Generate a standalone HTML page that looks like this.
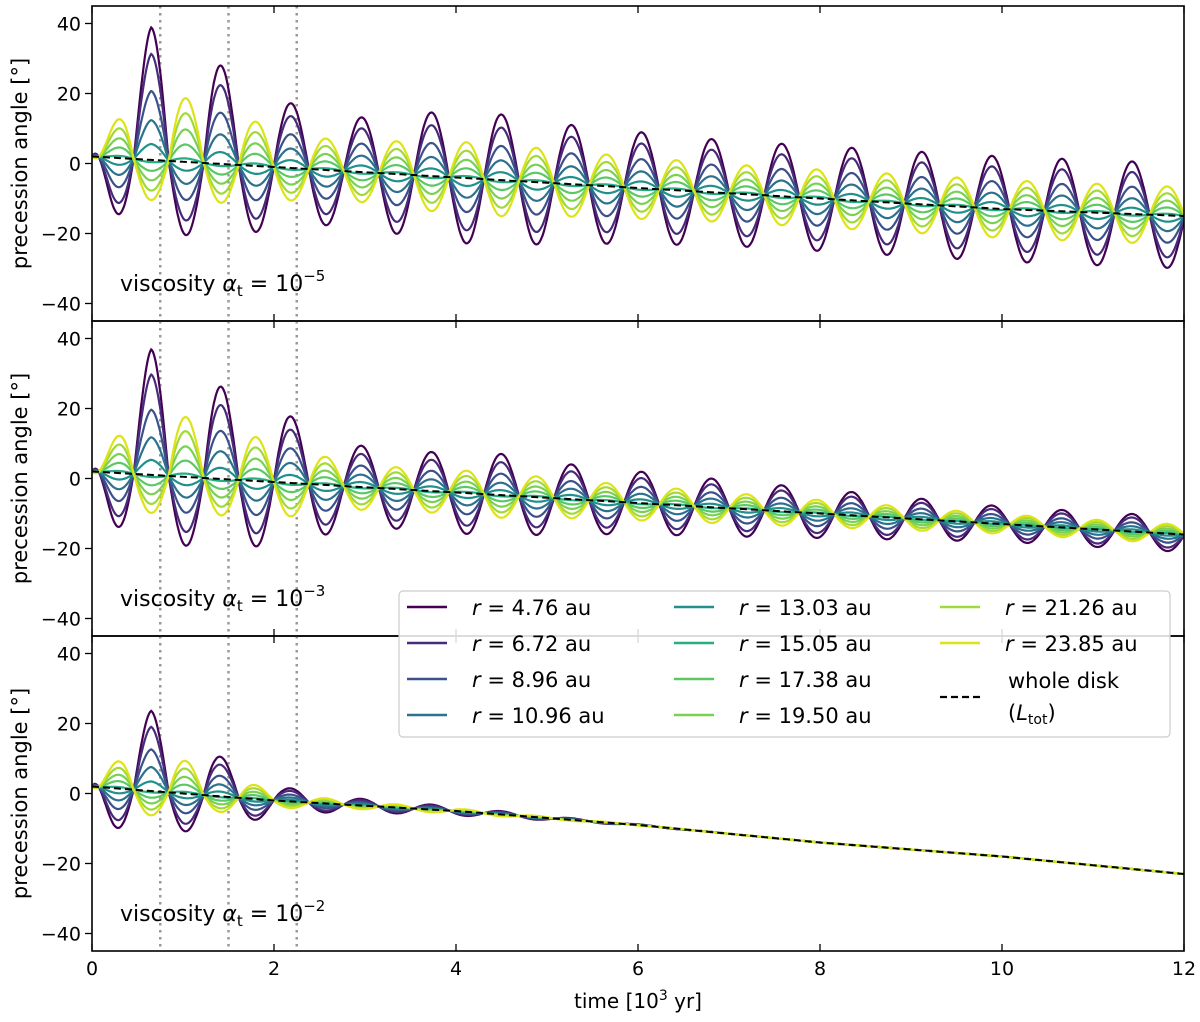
<!DOCTYPE html>
<html><head><meta charset="utf-8"><style>
body{margin:0;background:#fff}
svg{display:block;font-family:"DejaVu Sans","Liberation Sans",sans-serif}
</style></head><body>
<svg id="chart" width="1200" height="1022" viewBox="0 0 1200 1022"></svg>
<script>
// ---- data ----
const radii = ["4.76","6.72","8.96","10.96","13.03","15.05","17.38","19.50","21.26","23.85"];
const colors = ["#440154","#472c7a","#3b518b","#2c718e","#21908d","#27ad81","#5cc863","#7ad151","#a0da39","#dde318"];
const modeCoef = [1.0,0.8,0.52,0.3,0.12,-0.03,-0.15,-0.28,-0.42,-0.55];
const envTimes = [0,0.65,1.35,2.1,2.8,3.6,4.4,5.2,6,7,8,9,10,11,12];
const envTop = [10,38,29,19,15,18,19,17,16,15,15,15,15,15,15];
const envMid = [10,36,27,20,12,11,12,10,9,8,7,6,5,5,5];
const envBot = [10,23,12,4,2,1.5,1,0.5,0.2,0,0,0,0,0,0];
const negFactor = [1,0.55,0.7,0.9,1,1,1,1,1,1,1,1,1,1,1];
const trendTimes = [0,2,4,6,8,10,12];
const trendTop = [2,-1,-4,-7,-10,-13,-15];
const trendMid = [2,-1,-4,-7,-10,-13,-16];
const trendBot = [2,-2,-5,-9,-14,-18,-23];
const oscPeriod = 0.77, firstPeak = 0.65;
const xTicks = [0,2,4,6,8,10,12];
const yTicks = [-40,-20,0,20,40];
const markerTimes = [0.75,1.5,2.25];
const panelLabels = ["\u22125","\u22123","\u22122"];
// ---- layout ----
const NS="http://www.w3.org/2000/svg";
const svg=document.getElementById('chart');
const X0=92,X1=1184;
const panels=[{top:6,env:envTop,tr:trendTop},{top:321,env:envMid,tr:trendMid},{top:636,env:envBot,tr:trendBot}];
const PH=315;
const xs=t=>X0+(t/12)*(X1-X0);
function mk(tag,attrs,parent){const e=document.createElementNS(NS,tag);for(const k in attrs)e.setAttribute(k,attrs[k]);(parent||svg).appendChild(e);return e;}
function interp(ts,vs,t){for(let i=0;i<ts.length-1;i++){if(t<=ts[i+1]){const f=(t-ts[i])/(ts[i+1]-ts[i]);return vs[i]+f*(vs[i+1]-vs[i]);}}return vs[vs.length-1];}
panels.forEach((p,pi)=>{
  const ys=v=>p.top+PH/2-v*(PH/90);
  const g=mk('g',{});
  
  
  const clipId='clip'+pi;
  const cp=mk('clipPath',{id:clipId},g);mk('rect',{x:X0,y:p.top,width:X1-X0,height:PH},cp);
  markerTimes.forEach(t=>{const l=mk('line',{x1:xs(t),x2:xs(t),y1:p.top,y2:p.top+PH,stroke:'#999','stroke-width':2.5,'stroke-dasharray':'2.5,4.5'},g);
    });
  const lg=mk('g',{'clip-path':'url(#'+clipId+')'},g);
  radii.forEach((r,i)=>{
    let d='';
    for(let k=0;k<=1200;k++){const t=k*0.01;
      const ramp=1-Math.exp(-t/0.12);
      let o=modeCoef[i]*interp(envTimes,p.env,t)*ramp*Math.cos(2*Math.PI*(t-firstPeak)/oscPeriod);
      if(o<0)o*=interp(envTimes,negFactor,t);
      const v=interp(trendTimes,p.tr,t)+o;
      d+=(k?'L':'M')+xs(t).toFixed(1)+','+ys(v).toFixed(1);}
    const path=mk('path',{d:d,fill:'none',stroke:colors[i],'stroke-width':2.2},lg);
    
    
  });
  let d='';
  for(let k=0;k<=240;k++){const t=k*0.05;d+=(k?'L':'M')+xs(t).toFixed(1)+','+ys(interp(trendTimes,p.tr,t)).toFixed(1);}
  const tl=mk('path',{d:d,fill:'none',stroke:'#000','stroke-width':2,'stroke-dasharray':'7,4'},lg);
  
  mk('rect',{x:X0,y:p.top,width:X1-X0,height:PH,fill:'none',stroke:'#000','stroke-width':1.6},g);
  xTicks.forEach(t=>{mk('line',{x1:xs(t),x2:xs(t),y1:p.top+PH,y2:p.top+PH-7,stroke:'#000','stroke-width':1.3},g);
    mk('line',{x1:xs(t),x2:xs(t),y1:p.top,y2:p.top+7,stroke:'#000','stroke-width':1.3},g);});
  yTicks.forEach(v=>{mk('line',{x1:X0,x2:X0-7,y1:ys(v),y2:ys(v),stroke:'#000','stroke-width':1.3},g);
    const tx=mk('text',{x:X0-11,y:ys(v)+7,'text-anchor':'end','font-size':19},g);tx.textContent=v<0?'\u2212'+(-v):v;
    });
  const yl=mk('text',{transform:`translate(27,${p.top+PH/2}) rotate(-90)`,'text-anchor':'middle','font-size':21},g);
  yl.textContent='precession angle [°]';
  const lab=mk('text',{x:120,y:p.top+PH-30,'font-size':22},g);
  lab.innerHTML='viscosity <tspan font-style="italic">α</tspan><tspan font-size="15" dy="5">t</tspan><tspan dy="-5"> = 10</tspan><tspan font-size="15" dy="-10">'+panelLabels[pi]+'</tspan>';
  
});
xTicks.forEach(t=>{const tx=mk('text',{x:xs(t),y:975,'text-anchor':'middle','font-size':19});tx.textContent=t;
  });
const xt=mk('text',{x:638,y:1008,'text-anchor':'middle','font-size':20});
xt.innerHTML='time [10<tspan font-size="14" dy="-8">3</tspan><tspan dy="8"> yr]</tspan>';

// legend
const lg=mk('g',{});

mk('rect',{x:399,y:591,width:771,height:146,rx:4,fill:'rgba(255,255,255,0.85)',stroke:'#ccc','stroke-width':1.2},lg);
const colX=[407,674,940];
radii.forEach((r,i)=>{const c=i<4?0:(i<8?1:2);const row=i<4?i:(i<8?i-4:i-8);
  const y=607+row*36;
  mk('line',{x1:colX[c],x2:colX[c]+40,y1:y,y2:y,stroke:colors[i],'stroke-width':2.5},lg);
  const t=mk('text',{x:colX[c]+65,y:y+8,'font-size':21},lg);
  t.innerHTML='<tspan font-style="italic">r</tspan> = '+r+' au';
  });
mk('line',{x1:940,x2:980,y1:697,y2:697,stroke:'#000','stroke-width':2.2,'stroke-dasharray':'7,4'},lg);
const w1=mk('text',{x:1008,y:688,'font-size':21},lg);w1.textContent='whole disk';

const w2=mk('text',{x:1008,y:720,'font-size':21},lg);
w2.innerHTML='(<tspan font-style="italic">L</tspan><tspan font-size="14" dy="4">tot</tspan><tspan dy="-4">)</tspan>';
</script>
</body></html>
